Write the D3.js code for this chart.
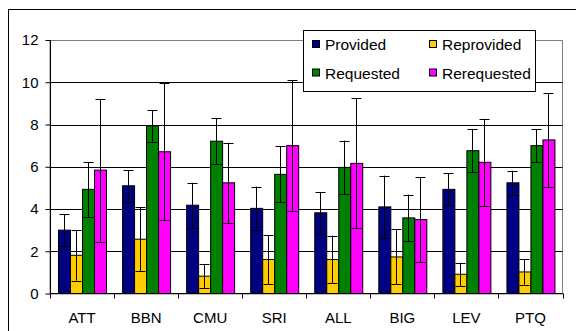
<!DOCTYPE html>
<html><head><meta charset="utf-8">
<script src="https://cdn.jsdelivr.net/npm/d3@7"></script>
<style>body{margin:0;background:#fff}svg{display:block}text{font-family:"Liberation Sans",Arial,sans-serif}</style>
</head><body>
<svg id="c" width="576" height="331"></svg>
<script>
const categories = ["ATT","BBN","CMU","SRI","ALL","BIG","LEV","PTQ"];
const seriesNames = ["Provided","Reprovided","Requested","Rerequested"];
const seriesColors = ["#000080","#FFCC00","#008000","#FF00FF"];
const provided    = [3.0, 5.1, 4.18, 4.03, 3.82, 4.1, 4.93, 5.24];
const providedErr = [0.76, 0.75, 1.06, 1.03, 0.98, 1.48, 0.76, 0.57];
const reprovided    = [1.81, 2.57, 0.82, 1.61, 1.61, 1.73, 0.91, 1.02];
const reprovidedErr = [1.2, 1.52, 0.58, 1.17, 1.13, 1.3, 0.55, 0.6];
const requested    = [4.93, 7.94, 7.21, 5.64, 5.97, 3.58, 6.76, 7.0];
const requestedErr = [1.3, 0.75, 1.08, 1.33, 1.27, 1.1, 1.03, 0.78];
const rerequested    = [5.84, 6.71, 5.24, 7.0, 6.16, 3.5, 6.21, 7.27];
const rerequestedErr = [3.38, 3.25, 1.9, 3.1, 3.08, 2.02, 2.06, 2.22];
const yTicks = [0,2,4,6,8,10,12];

const values = [provided, reprovided, requested, rerequested];
const errs = [providedErr, reprovidedErr, requestedErr, rerequestedErr];

const svg = d3.select("#c");
const L = 50, R = 562.5, T = 40, B = 293.5;
const x = d3.scaleBand().domain(categories).range([L, R]).paddingInner(0).paddingOuter(0);
const inner = d3.scaleBand().domain(seriesNames).range([8, 56]);
const y = d3.scaleLinear().domain([0, 12]).range([B, T]);

// outer frame (left and top visible)
svg.append("rect").attr("x", 8.5).attr("y", 9.5).attr("width", 600).attr("height", 400)
  .attr("fill", "none").attr("stroke", "#000").attr("stroke-width", 1);

// plot area border (gray)
svg.append("rect").attr("x", L).attr("y", Math.round(y(12)) + 0.5).attr("width", R - L).attr("height", B - y(12))
  .attr("fill", "none").attr("stroke", "#808080");

// gridlines
svg.append("g").selectAll("line").data(yTicks.filter(d => d > 0 && d < 12)).join("line")
  .attr("x1", L).attr("x2", R).attr("y1", d => Math.round(y(d)) + 0.5).attr("y2", d => Math.round(y(d)) + 0.5)
  .attr("stroke", "#000");

// bars
const data = [];
categories.forEach((c, i) => seriesNames.forEach((s, j) => data.push({c, s, j, v: values[j][i], e: errs[j][i]})));
const g = svg.append("g");
g.selectAll("rect").data(data).join("rect")
  .attr("x", d => x(d.c) + inner(d.s) + 0.5)
  .attr("width", inner.bandwidth())
  .attr("y", d => y(d.v))
  .attr("height", d => B - y(d.v))
  .attr("fill", d => seriesColors[d.j])
  .attr("stroke", "#000").attr("stroke-width", 1);

// error bars
const eb = svg.append("g").attr("stroke", "#000").attr("stroke-width", 1);
data.forEach(d => {
  const cx = Math.round(x(d.c) + inner(d.s) + inner.bandwidth() / 2) + 0.5;
  const y1 = y(Math.max(0, d.v - d.e)), y2 = y(d.v + d.e);
  eb.append("line").attr("x1", cx).attr("x2", cx).attr("y1", y1).attr("y2", y2);
  [y1, y2].forEach(yy => eb.append("line").attr("x1", cx - 5).attr("x2", cx + 5)
    .attr("y1", Math.round(yy) + 0.5).attr("y2", Math.round(yy) + 0.5));
});

// axes
const yAxis = d3.axisLeft(y).tickValues(yTicks).tickSize(5).tickPadding(7);
const ya = svg.append("g").attr("transform", `translate(${L + 0.5},0)`).call(yAxis);
ya.selectAll("text").attr("font-size", 15).attr("fill", "#000").attr("font-family", '"Liberation Sans",Arial,sans-serif');
ya.select(".domain").remove();
ya.selectAll(".tick line").attr("stroke", "#000");
svg.append("line").attr("x1", L + 0.5).attr("x2", L + 0.5).attr("y1", T).attr("y2", B).attr("stroke", "#000");

const xb = svg.append("g");
xb.append("line").attr("x1", L).attr("x2", R).attr("y1", B).attr("y2", B).attr("stroke", "#000");
const bounds = categories.map(c => x(c)).concat([x(categories[categories.length - 1]) + x.bandwidth()]);
xb.selectAll("line.t").data(bounds).join("line").attr("class", "t")
  .attr("x1", d => Math.round(d) + 0.5).attr("x2", d => Math.round(d) + 0.5)
  .attr("y1", B).attr("y2", B + 5).attr("stroke", "#000");
xb.selectAll("text").data(categories).join("text")
  .attr("x", d => x(d) + x.bandwidth() / 2).attr("y", 323)
  .attr("text-anchor", "middle").attr("font-size", 15).attr("fill", "#000").text(d => d);

// legend
const lg = svg.append("g");
lg.append("rect").attr("x", 303.5).attr("y", 30.5).attr("width", 232).attr("height", 61)
  .attr("fill", "#fff").attr("stroke", "#000");
const legPos = [[312, 45], [429, 45], [312, 73.5], [429, 73.5]];
seriesNames.forEach((s, j) => {
  const [lx, ly] = legPos[j];
  lg.append("rect").attr("x", lx + 0.5).attr("y", ly - 4.5).attr("width", 7).attr("height", 7)
    .attr("fill", seriesColors[j]).attr("stroke", "#000");
  lg.append("text").attr("x", lx + 13).attr("y", ly + 5).attr("font-size", 15.5).attr("fill", "#000").text(s);
});
</script>
</body></html>
